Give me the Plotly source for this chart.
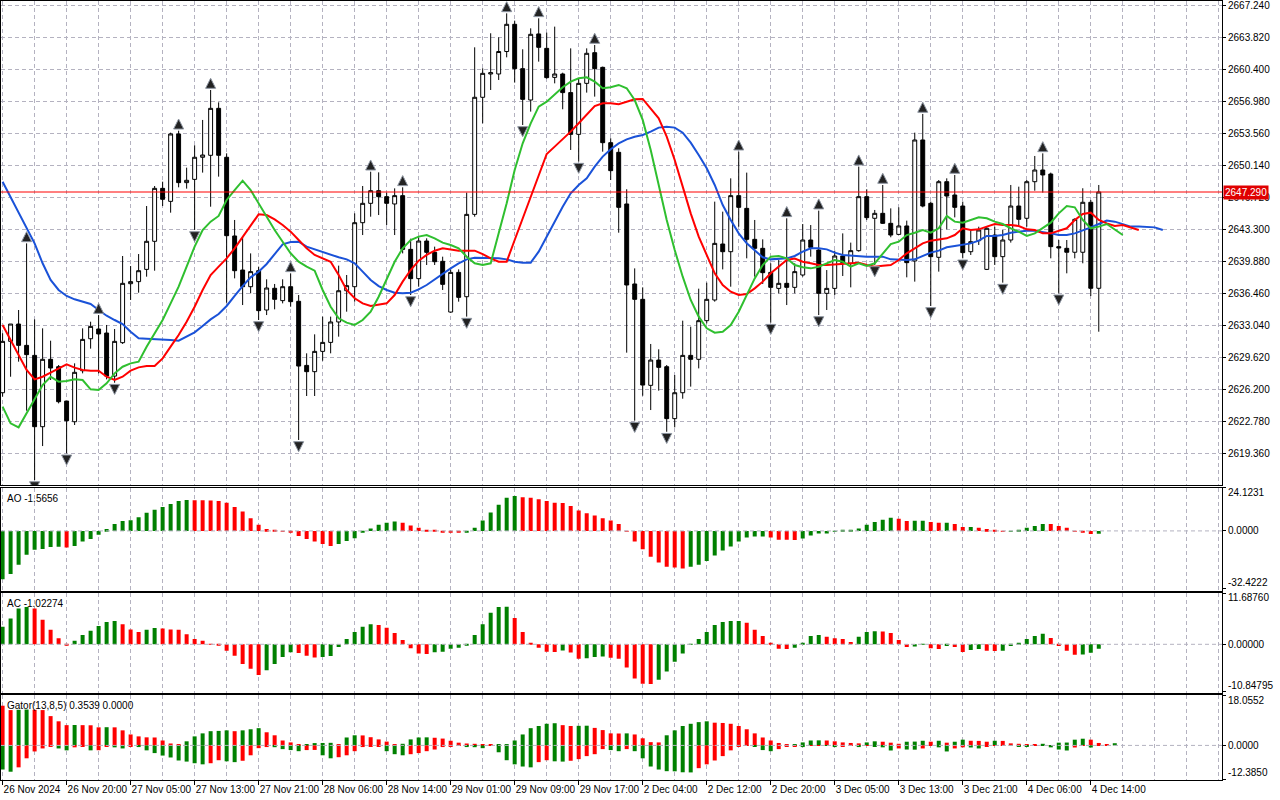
import plotly.graph_objects as go
from plotly.subplots import make_subplots

# XAUUSD-like H1 chart, 26 Nov 2024 .. 4 Dec 2024 (one entry per bar)
opens = [
    2625.84, 2631.33, 2633.18, 2630.90, 2629.83, 2622.21, 2629.41, 2628.62, 2624.95, 2622.74,
    2628.19, 2631.61, 2632.65, 2632.22, 2627.62, 2631.19, 2637.49, 2637.71, 2639.02, 2642.02,
    2647.68, 2646.29, 2653.49, 2648.29, 2648.64, 2651.00, 2651.21, 2656.23, 2651.00, 2642.59,
    2638.95, 2637.17, 2638.88, 2634.68, 2637.00, 2635.68, 2637.17, 2635.61, 2628.76, 2628.09,
    2630.26, 2631.22, 2633.40, 2636.74, 2637.17, 2644.01, 2646.08, 2647.43, 2646.79, 2646.01,
    2646.90, 2641.16, 2638.03, 2642.05, 2640.84, 2639.88, 2634.46, 2638.70, 2636.10, 2644.90,
    2657.41, 2659.90, 2659.90, 2662.30, 2665.21, 2660.47, 2657.12, 2664.18, 2662.64, 2659.54,
    2659.90, 2657.91, 2653.45, 2658.90, 2662.18, 2660.61, 2652.56, 2651.53, 2646.01, 2637.46,
    2635.82, 2626.63, 2629.33, 2628.62, 2623.07, 2625.84, 2629.83, 2629.41, 2633.54, 2635.75,
    2641.73, 2640.91, 2646.90, 2645.54, 2642.23, 2641.27, 2638.70, 2636.99, 2637.53, 2637.10,
    2638.42, 2642.16, 2641.09, 2636.46, 2636.99, 2640.45, 2639.67, 2641.02, 2646.79, 2644.48,
    2645.01, 2643.94, 2642.76, 2643.66, 2639.92, 2652.85, 2646.08, 2640.31, 2648.39, 2646.97,
    2645.79, 2640.91, 2642.09, 2639.02, 2642.69, 2640.38, 2642.16, 2645.79, 2644.48, 2648.39,
    2649.64, 2649.21, 2641.45, 2641.27, 2640.85, 2640.85, 2646.19, 2637.00]
highs = [
    2632.19, 2633.18, 2634.68, 2641.80, 2633.68, 2632.72, 2631.40, 2628.80, 2624.95, 2628.98,
    2632.72, 2633.43, 2634.14, 2633.08, 2632.65, 2640.45, 2639.38, 2640.66, 2645.79, 2647.93,
    2648.39, 2653.63, 2653.84, 2649.89, 2652.28, 2654.99, 2658.19, 2656.87, 2651.42, 2644.30,
    2642.45, 2640.73, 2639.31, 2637.96, 2637.46, 2637.96, 2638.60, 2636.28, 2630.05, 2632.08,
    2633.97, 2633.97, 2639.42, 2638.42, 2645.01, 2647.93, 2649.46, 2649.39, 2647.22, 2647.68,
    2647.79, 2642.30, 2642.45, 2642.34, 2641.45, 2640.38, 2639.02, 2639.02, 2647.22, 2662.75,
    2660.51, 2664.25, 2663.82, 2666.38, 2665.60, 2662.54, 2664.78, 2665.85, 2664.32, 2664.96,
    2660.04, 2662.64, 2659.44, 2662.64, 2663.00, 2660.69, 2653.03, 2651.96, 2647.58, 2639.13,
    2637.10, 2631.05, 2630.48, 2628.80, 2627.73, 2633.54, 2632.90, 2636.96, 2637.60, 2646.26,
    2645.19, 2648.75, 2651.60, 2649.36, 2644.30, 2642.23, 2639.67, 2640.02, 2644.48, 2639.67,
    2643.87, 2643.76, 2645.30, 2638.95, 2641.02, 2642.87, 2641.88, 2650.00, 2647.58, 2645.37,
    2648.04, 2645.54, 2645.65, 2644.23, 2653.63, 2655.63, 2646.26, 2648.57, 2648.75, 2649.11,
    2646.26, 2643.23, 2643.58, 2643.58, 2643.58, 2643.23, 2648.04, 2647.86, 2648.57, 2651.14,
    2651.42, 2649.36, 2642.16, 2642.16, 2644.48, 2647.69, 2646.44, 2648.04]
lows = [
    2625.42, 2627.55, 2629.16, 2623.92, 2616.51, 2620.14, 2627.20, 2624.70, 2619.36, 2622.39,
    2627.91, 2630.55, 2627.91, 2627.27, 2626.91, 2631.05, 2635.75, 2636.53, 2638.24, 2638.88,
    2645.79, 2645.08, 2647.79, 2647.65, 2643.23, 2649.36, 2645.72, 2648.93, 2635.46, 2638.06,
    2635.21, 2636.46, 2633.61, 2634.14, 2634.75, 2635.39, 2635.03, 2620.79, 2625.49, 2625.49,
    2629.26, 2630.05, 2631.83, 2634.50, 2635.57, 2642.69, 2644.65, 2644.83, 2643.76, 2642.69,
    2640.73, 2636.28, 2637.17, 2639.49, 2639.49, 2636.82, 2634.39, 2635.57, 2633.97, 2644.65,
    2654.63, 2658.19, 2659.26, 2661.68, 2658.98, 2654.45, 2655.88, 2661.22, 2659.40, 2658.90,
    2656.13, 2651.78, 2650.53, 2657.91, 2657.48, 2651.60, 2648.57, 2642.94, 2630.12, 2622.85,
    2625.52, 2623.99, 2626.06, 2621.67, 2622.14, 2625.20, 2626.49, 2628.44, 2633.25, 2635.57,
    2639.02, 2637.17, 2643.58, 2640.20, 2638.24, 2637.46, 2633.32, 2636.46, 2635.21, 2636.46,
    2638.24, 2640.38, 2634.14, 2634.68, 2636.28, 2638.31, 2637.10, 2640.91, 2644.30, 2639.49,
    2643.87, 2642.45, 2642.69, 2638.17, 2637.71, 2645.65, 2635.11, 2638.78, 2643.30, 2644.58,
    2640.20, 2640.56, 2641.63, 2638.95, 2639.49, 2637.60, 2641.88, 2643.76, 2643.58, 2647.43,
    2647.22, 2640.20, 2636.46, 2638.60, 2640.20, 2639.67, 2636.17, 2632.36]
closes = [
    2631.33, 2633.18, 2630.90, 2629.91, 2622.21, 2629.41, 2628.48, 2624.88, 2622.85, 2628.02,
    2631.54, 2632.93, 2632.12, 2627.62, 2631.33, 2637.53, 2637.71, 2638.88, 2642.02, 2647.68,
    2646.51, 2653.49, 2648.29, 2648.54, 2651.00, 2651.24, 2656.23, 2651.21, 2642.62, 2638.88,
    2637.17, 2638.78, 2634.61, 2637.03, 2635.82, 2637.17, 2635.57, 2628.69, 2628.09, 2630.26,
    2631.22, 2633.40, 2636.74, 2637.28, 2644.01, 2646.08, 2647.43, 2646.79, 2646.08, 2646.90,
    2641.16, 2638.03, 2642.05, 2640.84, 2639.84, 2637.42, 2638.70, 2636.03, 2644.90, 2657.41,
    2659.97, 2660.04, 2662.30, 2665.21, 2660.47, 2657.19, 2664.14, 2662.75, 2659.51, 2659.90,
    2657.91, 2653.45, 2658.90, 2662.11, 2660.47, 2652.56, 2649.57, 2645.65, 2637.35, 2635.82,
    2626.66, 2629.33, 2628.55, 2623.07, 2625.84, 2629.83, 2629.41, 2633.54, 2635.82, 2641.80,
    2640.91, 2646.90, 2645.65, 2642.23, 2641.27, 2638.67, 2637.10, 2637.53, 2637.10, 2638.78,
    2642.16, 2641.37, 2636.46, 2636.99, 2640.45, 2639.74, 2641.02, 2646.79, 2644.55, 2645.01,
    2643.94, 2642.69, 2643.66, 2639.74, 2652.85, 2645.79, 2640.38, 2648.39, 2646.86, 2645.65,
    2640.81, 2641.98, 2643.23, 2643.41, 2640.38, 2642.16, 2645.79, 2644.37, 2648.39, 2649.64,
    2649.11, 2641.45, 2641.31, 2640.85, 2644.37, 2646.19, 2637.00, 2647.29]

# Alligator (already shifted forward: jaw 8, teeth 5, lips 3 bars)
jaw = [
    2648.39, 2646.72, 2645.01, 2643.41, 2641.80, 2639.67, 2637.89, 2636.82, 2636.18, 2635.82,
    2635.57, 2635.32, 2634.68, 2634.07, 2633.61, 2633.18, 2632.36, 2631.65, 2631.61, 2631.58,
    2631.54, 2631.47, 2631.40, 2631.83, 2632.29, 2632.97, 2633.68, 2634.25, 2635.11, 2636.18,
    2637.24, 2638.17, 2638.78, 2639.60, 2640.66, 2641.70, 2641.95, 2641.98,
    2641.45, 2641.16, 2640.91, 2640.56, 2640.31, 2640.09, 2639.67, 2638.78, 2637.89, 2637.24,
    2636.82, 2636.53, 2636.46, 2636.53, 2636.89, 2637.35, 2637.96, 2638.60, 2639.13, 2639.67,
    2640.09, 2640.27, 2640.27, 2640.20, 2640.20, 2640.09, 2639.84, 2639.74, 2639.74, 2640.91,
    2642.52, 2644.12, 2645.72, 2647.15, 2648.04, 2648.75,
    2650.00, 2651.07, 2651.85, 2652.49, 2652.92, 2653.20, 2653.38, 2653.74, 2654.17, 2654.27,
    2654.17, 2653.63, 2652.56, 2651.24, 2649.82, 2648.04, 2645.90, 2644.30, 2642.87, 2641.80,
    2641.02, 2640.31, 2640.09, 2640.17, 2640.20, 2640.45, 2640.91, 2641.27, 2641.27, 2641.16,
    2640.81, 2640.56, 2640.49, 2640.45, 2640.38, 2640.38,
    2640.38, 2640.09, 2640.02, 2640.02, 2640.09, 2640.45, 2640.81, 2641.02, 2641.38, 2641.52,
    2641.63, 2641.80, 2642.09, 2642.59, 2642.59, 2642.69, 2642.94, 2643.05, 2643.16, 2643.16,
    2643.05, 2642.87, 2642.69, 2642.69, 2642.87, 2643.16, 2643.51, 2643.87, 2644.23, 2644.12,
    2643.87, 2643.59, 2643.59, 2643.59, 2643.51, 2643.23]
teeth = [
    2633.08, 2631.47, 2629.87, 2628.27, 2627.27, 2627.55, 2627.98, 2628.44, 2628.87, 2628.52,
    2628.27, 2628.20, 2628.20, 2627.55, 2627.20, 2627.55, 2628.20, 2628.55, 2628.69, 2628.69,
    2629.51, 2630.76, 2632.01, 2633.43, 2635.03, 2636.82, 2638.42, 2639.31, 2640.20, 2641.27,
    2642.52, 2643.76, 2644.90, 2644.83, 2644.37, 2643.76, 2643.05, 2642.16,
    2641.27, 2640.56, 2640.20, 2639.84, 2638.42, 2636.82, 2635.93, 2635.39, 2635.11, 2635.21,
    2635.39, 2636.28, 2637.71, 2638.95, 2639.95, 2640.56, 2641.02, 2641.27, 2641.16, 2641.02,
    2641.02, 2641.02, 2640.66, 2640.20, 2639.84, 2639.84, 2642.16, 2644.48, 2646.79, 2649.11,
    2651.35, 2652.14, 2652.92, 2653.74, 2654.63, 2655.52,
    2656.48, 2656.77, 2656.77, 2656.66, 2656.94, 2657.19, 2657.23, 2656.23, 2655.16, 2653.20,
    2650.71, 2647.86, 2645.01, 2642.52, 2640.56, 2638.60, 2637.35, 2636.64, 2636.28, 2636.39,
    2636.99, 2637.71, 2638.60, 2639.31, 2640.02, 2640.17, 2639.84, 2639.67, 2639.49, 2639.49,
    2639.56, 2639.60, 2639.67, 2639.74, 2639.49, 2639.31,
    2639.42, 2639.49, 2640.02, 2640.74, 2641.27, 2641.80, 2642.09, 2642.23, 2642.34, 2642.69,
    2643.41, 2643.23, 2643.30, 2643.59, 2643.87, 2643.76, 2643.76, 2643.66, 2643.30, 2643.23,
    2642.87, 2642.87, 2643.16, 2643.41, 2644.30, 2644.94, 2645.08, 2644.30, 2643.94, 2643.66,
    2643.76, 2643.51, 2643.23]
lips = [
    2624.35, 2622.57, 2622.14, 2623.64, 2625.24, 2626.66, 2627.55, 2627.02, 2627.09, 2627.27,
    2627.20, 2626.20, 2626.13, 2626.84, 2627.91, 2628.62, 2628.98, 2629.16, 2630.76, 2632.19,
    2633.61, 2635.39, 2637.17, 2639.31, 2641.45, 2643.23, 2644.12, 2644.73, 2646.44, 2647.50,
    2648.50, 2647.50, 2646.08, 2644.65, 2643.23, 2641.98, 2640.74, 2639.84,
    2639.31, 2638.88, 2636.82, 2635.03, 2633.79, 2633.33, 2633.08, 2633.61, 2634.50, 2636.10,
    2638.06, 2639.84, 2641.27, 2642.16, 2642.52, 2642.69, 2642.34, 2641.88, 2641.63, 2641.27,
    2640.38, 2639.67, 2639.49, 2639.67, 2642.87, 2646.08, 2649.64, 2652.49, 2654.63, 2656.41,
    2656.94, 2657.66, 2658.48, 2659.08, 2659.44, 2659.55,
    2659.08, 2658.37, 2658.48, 2658.73, 2658.37, 2657.12, 2654.99, 2651.78, 2647.86, 2644.30,
    2641.09, 2638.24, 2635.75, 2633.97, 2632.72, 2632.26, 2632.36, 2633.08, 2634.50, 2636.28,
    2638.06, 2639.49, 2640.38, 2640.45, 2640.20, 2639.49, 2639.24, 2639.13, 2639.31, 2639.67,
    2640.02, 2639.84, 2639.31, 2639.67, 2639.38, 2639.67,
    2640.74, 2641.73, 2641.98, 2642.69, 2642.94, 2643.23, 2642.94, 2643.41, 2644.73, 2644.12,
    2644.01, 2644.30, 2644.58, 2644.48, 2644.12, 2643.87, 2643.41, 2643.05, 2642.59, 2642.87,
    2643.41, 2644.01, 2645.01, 2645.79, 2645.65, 2644.30, 2643.41, 2643.59, 2643.87, 2643.30,
    2642.69]

# bar indexes carrying a fractal
fractal_up = [3, 12, 22, 26, 36, 46, 50, 63, 67, 74, 92, 98, 102, 107, 110, 115, 119, 130]
fractal_dn = [4, 8, 14, 24, 32, 37, 51, 58, 65, 72, 79, 83, 96, 102, 109, 116, 120, 125, 132]

ao = [
    -27.0, -24.1, -19.0, -13.4, -10.6, -10.1, -9.0, -8.9, -9.3, -8.4, -6.0, -4.5, -2.2, 1.1, 3.9,
    5.6, 6.0, 7.7, 10.1, 11.8, 13.4, 15.1, 16.8, 17.3, 17.2, 17.1, 17.0, 16.7, 15.7, 13.4, 10.8,
    7.1, 3.4, 1.1, 0.2, -0.4, -1.1, -2.8, -4.5, -6.0, -7.3, -8.4, -7.3, -5.6, -4.1, -0.9, 1.3, 3.4,
    4.5, 5.2, 4.5, 3.0, 1.7, 0.6, 0.2, -0.7, -0.9, -1.0, -0.7, 1.7, 5.8, 10.3, 14.6, 18.5, 19.6,
    18.8, 18.5, 17.7, 16.8, 15.7, 15.6, 14.0, 11.4, 9.9, 8.6, 7.1, 5.8, 3.9, -0.4, -6.0, -10.3,
    -14.4, -17.7, -20.0, -20.5, -21.1, -20.0, -19.0, -16.8, -13.8, -11.0, -8.8, -6.0, -3.7,
    -3.2, -3.1, -3.7, -4.9, -5.0, -5.1, -4.3, -2.6, -1.5, -1.4, 0.1, 0.2, 0.3, 1.3, 3.4, 5.0,
    6.2, 7.3, 6.8, 5.6, 5.65, 5.7, 5.0, 4.5, 4.55, 3.9, 2.2, 2.25, 1.7, 1.1, 0.3, -0.2, -0.1,
    0.7, 1.7, 2.8, 3.9, 3.85, 2.8, 1.7, -0.3, -0.9, -1.75, -1.5656]
ac = [
    4.0, 5.9, 8.2, 8.5, 8.2, 5.6, 3.3, 1.4, -0.15, 0.8, 2.1, 3.1, 4.2, 5.1, 5.3, 4.6, 3.4, 2.8,
    3.3, 3.7, 3.6, 3.4, 3.3, 2.3, 1.2, 0.8, -0.05, -0.3, -1.5, -2.6, -4.5, -5.6, -7.0, -5.9, -4.5,
    -2.9, -1.8, -2.0, -2.6, -3.0, -2.9, -2.7, -0.6, 1.2, 2.8, 4.0, 4.6, 4.4,
    3.8, 2.6, 1.0, -0.9, -2.1, -2.2, -1.8, -1.7, -1.0, -0.8, -0.1, 2.1, 4.6, 7.2, 8.5, 8.6, 6.0,
    2.8, 0.3, -0.8, -1.7, -1.75, -1.4, -1.9, -3.3, -3.2, -2.9, -2.8, -3.1, -3.3, -5.3, -7.8, -9.0,
    -9.05, -8.1, -6.2, -4.0, -2.1, 0.05, 1.2, 2.8, 4.4, 5.1, 5.3, 5.35, 4.9,
    3.3, 1.9, 0.3, -1.0, -1.05, -0.8, 0.3, 1.9, 2.1, 1.7, 1.4, 1.2, 0.5, 1.7, 2.8, 3.0, 2.95, 2.6,
    1.0, -0.6, -0.5, -0.05, -0.9, -1.1, -0.4, -0.6, -1.75, -1.3, -1.05, -1.5, -1.55, -1.5, -0.4,
    0.3, 1.2, 1.9, 2.4, 1.45, -0.4, -1.5, -2.4, -2.35, -1.95, -1.02274]
gator_up = [
    14.5, 12.9, 13.0, 13.1, 13.0, 12.9, 10.7, 8.8, 7.4, 7.45, 7.4, 7.35, 6.6, 6.65, 6.6, 5.5, 4.0,
    3.3, 2.95, 2.9, 1.8, 0.7, 0.4, 1.5, 3.3, 4.4, 5.2, 5.3, 5.5, 5.2, 5.5, 5.9, 6.3, 4.8, 3.7, 1.8,
    1.1, 0.25, 0.5, 0.85, 0.9, 0.95, 0.25, 2.9, 3.7, 3.65, 3.0, 2.2,
    1.4, 0.5, 0.6, 2.2, 2.9, 2.95, 2.8, 2.5, 1.7, 1.0, 0.7, 0.6, 0.4, 0.2, 0.35, 0.5, 1.8, 4.0,
    6.3, 7.1, 7.9, 8.1, 7.4, 7.1, 7.15, 7.2, 6.4, 5.6, 4.4, 4.35, 4.4, 4.0, 2.6, 1.2, 1.1, 3.7,
    5.5, 7.1, 7.9, 8.5, 8.8, 8.3, 8.2, 7.9, 7.1, 5.9,
    4.4, 2.9, 1.8, 0.9, 0.4, 0.45, 1.1, 1.8, 1.85, 1.8, 1.5, 1.1, 0.9, 0.75, 1.1, 1.5,
    1.35, 1.0, 0.6, 1.35, 1.4, 1.7, 1.35, 1.7, 1.0, 1.35, 2.1, 1.7, 1.65, 1.35, 1.7, 1.65, 0.75,
    0.6, 0.5, 0.25, 0.6, 0.1, 1.0, 1.05, 2.1, 2.45, 2.1, 0.9, 0.45, 0.8]
gator_dn = [
    -8.8, -9.6, -8.0, -4.7, -2.2, -1.1, -0.35, -1.1, -1.8, -0.7, -0.3, -1.8, -1.75, -0.3, -0.7,
    -1.1, -0.4, -0.6, -1.8, -2.8, -3.7, -4.4, -5.5, -5.9, -6.5, -6.9, -6.5, -5.4, -5.8, -6.1, -5.6,
    -3.6, -1.0, -0.6, -0.65, -1.35, -1.7, -2.1, -1.7, -1.65, -3.6, -4.7, -4.3, -3.6, -2.1, -0.6,
    -0.55, -0.25,
    -2.1, -3.2, -3.6, -3.2, -2.8, -2.1, -1.5, -0.6, -0.25, -0.1, -0.6, -0.65, -1.0, -0.1, -2.5,
    -5.4, -6.9, -7.7, -8.0, -6.1, -5.4, -5.8, -5.9, -5.6, -5.0, -3.9, -3.2, -1.35, -1.7, -2.1,
    -1.35, -2.1, -4.7, -7.7, -8.8, -9.4, -9.45, -9.8, -9.85, -8.3, -6.9, -5.5, -3.9, -1.8, -0.25,
    -0.2,
    -0.3, -1.7, -2.1, -1.35, -0.3, -0.25, -0.6, -0.2, -0.15, -0.2, -0.6, -0.25, -0.2, -0.6, -0.2,
    -0.3,
    -0.7, -1.85, -1.1, -1.5, -1.55, -1.1, -0.1, -0.7, -2.2, -1.1, -0.7, -0.75, -1.1, -0.3, -0.05,
    -0.05, -0.1, -0.35, -0.4, -0.05, -0.2, -0.7, -1.5, -1.85, -0.75, -0.1, -0.75, -0.05, 0.0, 0.0]

price_ticks = [2667.24, 2663.82, 2660.40, 2656.98, 2653.56, 2650.14, 2646.72, 2643.30,
               2639.88, 2636.46, 2633.04, 2629.62, 2626.20, 2622.78, 2619.36]
date_labels = ["26 Nov 2024", "26 Nov 20:00", "27 Nov 05:00", "27 Nov 13:00", "27 Nov 21:00",
               "28 Nov 06:00", "28 Nov 14:00", "29 Nov 01:00", "29 Nov 09:00", "29 Nov 17:00",
               "2 Dec 04:00", "2 Dec 12:00", "2 Dec 20:00", "3 Dec 05:00", "3 Dec 13:00",
               "3 Dec 21:00", "4 Dec 06:00", "4 Dec 14:00"]
last_price = 2647.29
ao_scale = [24.1231, 0.0, -32.4222]
ac_scale = [11.6876, 0.0, -10.84795]
gator_scale = [18.0552, 0.0, -12.3850]

GREEN = '#008000'
RED = '#ff0000'
GRID = '#b4b2c0'
DASH = '4px,3px'
FONT = 'Liberation Sans'


def updown_colors(vals, first, use_abs=False):
    cols = [first]
    for i in range(1, len(vals)):
        a, b = vals[i], vals[i - 1]
        if use_abs:
            a, b = abs(a), abs(b)
        cols.append(GREEN if a > b else RED)
    return cols


bars = list(range(len(opens)))

fig = make_subplots(rows=4, cols=1, shared_xaxes=True, vertical_spacing=0.0)

fig.add_trace(go.Candlestick(x=bars, open=opens, high=highs, low=lows, close=closes,
                             increasing=dict(line=dict(color='black', width=1), fillcolor='white'),
                             decreasing=dict(line=dict(color='black', width=1), fillcolor='black'),
                             whiskerwidth=0, hoverinfo='skip'), row=1, col=1)

for vals, col in [(jaw, '#1a52d8'), (teeth, '#ff0000'), (lips, '#2fbf2f')]:
    fig.add_trace(go.Scatter(x=list(range(len(vals))), y=vals, mode='lines',
                             line=dict(color=col, width=2), hoverinfo='skip'), row=1, col=1)

# fractal arrows sit a little above the high / below the low
gap = 1.25
fig.add_trace(go.Scatter(x=fractal_up, y=[highs[i] + gap for i in fractal_up], mode='markers',
                         marker=dict(symbol='arrow-up', size=10, color='#222222',
                                     line=dict(color='#8c94a0', width=1)),
                         hoverinfo='skip'), row=1, col=1)
fig.add_trace(go.Scatter(x=fractal_dn, y=[lows[i] - gap for i in fractal_dn], mode='markers',
                         marker=dict(symbol='arrow-down', size=10, color='#222222',
                                     line=dict(color='#8c94a0', width=1)),
                         hoverinfo='skip'), row=1, col=1)

fig.add_trace(go.Bar(x=bars, y=ao, width=0.5, marker=dict(color=updown_colors(ao, GREEN), line=dict(width=0)),
                     hoverinfo='skip'), row=2, col=1)
fig.add_trace(go.Bar(x=bars, y=ac, width=0.5, marker=dict(color=updown_colors(ac, GREEN), line=dict(width=0)),
                     hoverinfo='skip'), row=3, col=1)
gbars = list(range(len(gator_up)))
fig.add_trace(go.Bar(x=gbars, y=gator_up, width=0.5,
                     marker=dict(color=updown_colors(gator_up, RED, True), line=dict(width=0)),
                     hoverinfo='skip'), row=4, col=1)
fig.add_trace(go.Bar(x=gbars, y=gator_dn, width=0.5,
                     marker=dict(color=updown_colors(gator_dn, GREEN, True), line=dict(width=0)),
                     hoverinfo='skip'), row=4, col=1)

fig.update_layout(
    width=1280, height=800,
    margin=dict(l=1, r=58, t=1, b=20),
    paper_bgcolor='white', plot_bgcolor='white',
    showlegend=False, hovermode=False, barmode='overlay',
    font=dict(family=FONT, size=10, color='black'),
)

axis_common = dict(showline=True, mirror=True, linecolor='black', linewidth=1, zeroline=False)

for r in range(1, 5):
    fig.update_xaxes(range=[-0.2, 152.4], rangeslider_visible=False, showgrid=True,
                     gridcolor=GRID, griddash=DASH, gridwidth=1, tickmode='linear', tick0=0, dtick=4,
                     showticklabels=False, ticks='', row=r, col=1, **axis_common)
fig.update_xaxes(tickmode='array', tickvals=list(range(0, 8 * len(date_labels), 8)), ticktext=date_labels,
                 showticklabels=True, ticks='outside', ticklen=4, tickcolor='black', tickangle=0,
                 automargin=False, ticklabelposition='outside right',
                 tickfont=dict(family=FONT, size=10),
                 minor=dict(tickmode='linear', tick0=0, dtick=4, showgrid=True, gridcolor=GRID,
                            griddash=DASH, ticks=''),
                 row=4, col=1)

fig.update_yaxes(domain=[0.3787, 1.0], range=[2615.98, 2667.70], side='right', tickmode='array',
                 tickvals=price_ticks, ticktext=[f'{v:.3f}' for v in price_ticks],
                 ticks='outside', ticklen=3, tickcolor='black', showgrid=True, gridcolor=GRID,
                 griddash=DASH, tickfont=dict(family=FONT, size=10), automargin=False,
                 ticklabeloverflow='allow', row=1, col=1, **axis_common)

panels = [(2, [0.2430, 0.3752], [-33.48, 24.18], ao_scale, 4, 'AO -1.5656'),
          (3, [0.1121, 0.2404], [-11.05, 11.78], ac_scale, 5, 'AC -1.02274'),
          (4, [0.0, 0.1091], [-12.62, 18.40], gator_scale, 4, 'Gator(13,8,5) 0.3539 0.0000')]
for row, dom, rng, scale, dec, title in panels:
    fig.update_yaxes(domain=dom, range=rng, side='right', tickmode='array', tickvals=scale,
                     showticklabels=False, ticks='outside', ticklen=3, tickcolor='black',
                     showgrid=False, automargin=False, row=row, col=1, **axis_common)
    yref = 'y' + str(row)
    # dotted zero level
    fig.add_shape(type='line', xref='x' + str(row) + ' domain', yref=yref, x0=0, x1=1, y0=0, y1=0,
                  line=dict(color=GRID, width=1, dash=DASH))
    for v, anchor in zip(scale, ['top', 'middle', 'bottom']):
        fig.add_annotation(xref='paper', yref=yref, x=1, y=v, xanchor='left', yanchor=anchor,
                           xshift=4, yshift=(3 if anchor == 'top' else -1 if anchor == 'bottom' else 0),
                           text=f'{v:.{dec}f}', showarrow=False, font=dict(family=FONT, size=10))
    fig.add_annotation(xref='paper', yref='paper', x=0, y=dom[1], xanchor='left', yanchor='top',
                       xshift=4, yshift=-3, text=title, showarrow=False,
                       font=dict(family=FONT, size=10))

# last price line and tag
fig.add_shape(type='line', xref='x domain', yref='y', x0=0, x1=1, y0=last_price, y1=last_price,
              line=dict(color='#ff0000', width=1))
fig.add_annotation(xref='paper', yref='y', x=1, y=last_price, xanchor='left', yanchor='middle',
                   xshift=1, text=f'{last_price:.3f}', showarrow=False, bgcolor='#e00000',
                   borderpad=1, font=dict(family=FONT, size=10, color='white'))

fig.write_html("out.html", config={'displayModeBar': False},
               post_script="document.body.style.margin='0';")
